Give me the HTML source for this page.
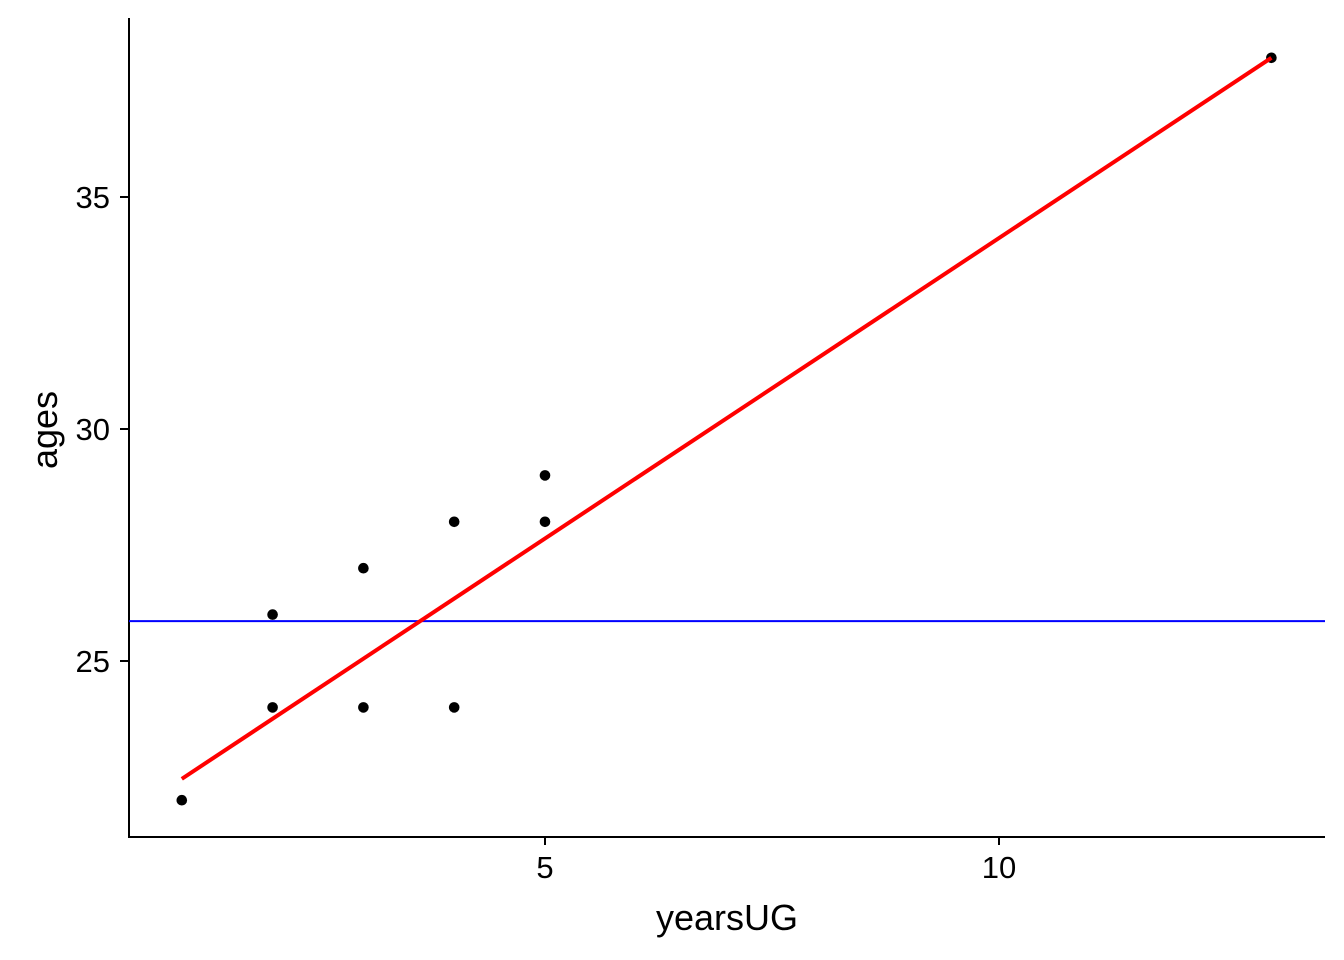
<!DOCTYPE html>
<html><head><meta charset="utf-8">
<style>
html,body{margin:0;padding:0;background:#fff;}
svg{display:block;font-family:"Liberation Sans",Arial,sans-serif;}
</style></head>
<body>
<svg id="chart" width="1344" height="960"></svg>
<script>
const xVals=[1,2,2,3,3,4,4,5,5,13];
const yVals=[22,26,24,27,24,28,24,29,28,38];
const xTicks=[5,10];
const yTicks=[25,30,35];
const meanLine=[25.86];
const fitCoef=[21.165,1.295]; // intercept, slope
const fitRange=[1,13];

const NS="http://www.w3.org/2000/svg";
const svg=document.getElementById('chart');
const L=129,R=1325,T=18,B=837;
function xs(v){return 545+(v-5)*90.8;}
function ys(v){return 661-(v-25)*46.4;}
function mk(tag,attrs,parent){const e=document.createElementNS(NS,tag);for(const k in attrs)e.setAttribute(k,attrs[k]);(parent||svg).appendChild(e);return e;}

const gAx=mk('g',{});


const yl=mk('line',{x1:L,y1:T,x2:L,y2:B,stroke:'#000','stroke-width':2},gAx);


const xl=mk('line',{x1:L-1,y1:B,x2:R,y2:B,stroke:'#000','stroke-width':2},gAx);



xTicks.forEach(t=>{
  const tk=mk('line',{x1:xs(t),y1:B,x2:xs(t),y2:B+8,stroke:'#000','stroke-width':2},gAx);
  
  
  const tx=mk('text',{x:xs(t),y:878,'text-anchor':'middle','font-size':31,fill:'#000'},gAx);
  tx.textContent=t;
  
  
});
yTicks.forEach(t=>{
  const tk=mk('line',{x1:L-9,y1:ys(t),x2:L,y2:ys(t),stroke:'#000','stroke-width':2},gAx);
  
  
  const tx=mk('text',{x:110,y:ys(t)+11,'text-anchor':'end','font-size':31,fill:'#000'},gAx);
  tx.textContent=t;
  
  
});

const xt=mk('text',{x:727,y:930,'text-anchor':'middle','font-size':36,fill:'#000'});
xt.textContent='yearsUG';


const yt=mk('text',{x:0,y:0,'text-anchor':'middle','font-size':36,fill:'#000',transform:'translate(57,430) rotate(-90)'});
yt.textContent='ages';



const gP=mk('g',{});


xVals.forEach((x,i)=>{
  const c=mk('circle',{cx:xs(x),cy:ys(yVals[i]),r:5.3,fill:'#000'},gP);
  
  
});

const hl=mk('line',{x1:L,y1:ys(meanLine[0]),x2:R,y2:ys(meanLine[0]),stroke:'#0000ff','stroke-width':2});



const f=v=>fitCoef[0]+fitCoef[1]*v;
const rl=mk('line',{x1:xs(fitRange[0]),y1:ys(f(fitRange[0])),x2:xs(fitRange[1]),y2:ys(f(fitRange[1])),stroke:'#ff0000','stroke-width':4});


</script>
</body></html>
